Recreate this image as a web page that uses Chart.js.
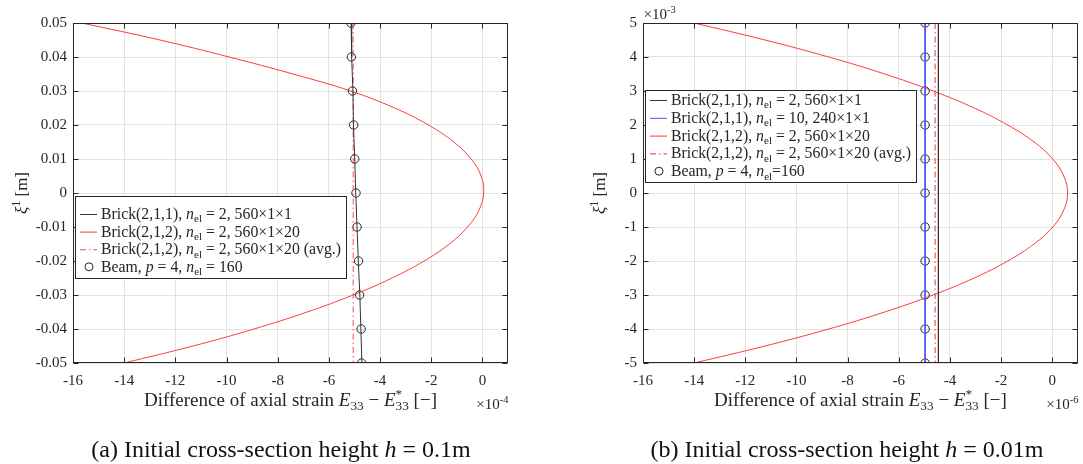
<!DOCTYPE html>
<html>
<head>
<meta charset="utf-8">
<script src="https://cdn.jsdelivr.net/npm/chart.js@4.4.1/dist/chart.umd.min.js"></script>
<style>
body{margin:0;background:#fff;width:1083px;height:464px;position:relative;overflow:hidden}
#ca{position:absolute;left:0;top:0}
#cb{position:absolute;left:540px;top:0}
</style>
</head>
<body>
<canvas id="ca" width="540" height="464"></canvas>
<canvas id="cb" width="543" height="464"></canvas>
<script>
// ---- panel (a): h = 0.1m, strain in 1e-4, xi in m
var xiA = [0.05, 0.04, 0.03, 0.02, 0.01, 0, -0.01, -0.02, -0.03, -0.04, -0.05];
var beamA = [-5.14, -5.12, -5.08, -5.03, -4.99, -4.94, -4.90, -4.84, -4.80, -4.74, -4.72];
var brick211A = [-5.13, -5.11, -5.06, -5.04, -4.99, -4.95, -4.90, -4.85, -4.79, -4.75, -4.71];
var xiEndsA = [0.05, -0.05];
var avgA = [-5.05, -5.05];
var xiFineA = [0.05, 0.045, 0.04, 0.035, 0.03, 0.025, 0.02, 0.015, 0.01, 0.005, 0,
               -0.005, -0.01, -0.015, -0.02, -0.025, -0.03, -0.035, -0.04, -0.045, -0.05];
var brick212A = [-15.66, -12.6, -9.9, -7.4, -5.15, -3.43, -2.11, -1.12, -0.44, -0.05, 0.05,
                 -0.13, -0.58, -1.29, -2.28, -3.53, -5.05, -6.85, -8.93, -11.31, -14.00];
var yTicksA = [-0.05, -0.04, -0.03, -0.02, -0.01, 0, 0.01, 0.02, 0.03, 0.04, 0.05];
var yTickLabelsA = ['-0.05', '-0.04', '-0.03', '-0.02', '-0.01', '0', '0.01', '0.02', '0.03', '0.04', '0.05'];

// ---- panel (b): h = 0.01m, strain in 1e-6, xi in 1e-3 m
var xiB = [5, 4, 3, 2, 1, 0, -1, -2, -3, -4, -5];
var beamB = [-4.97, -4.97, -4.97, -4.97, -4.97, -4.97, -4.97, -4.97, -4.97, -4.97, -4.97];
var xiEndsB = [5, -5];
var brick211B = [-4.45, -4.45];
var brick211fineB = [-4.97, -4.97];
var avgB = [-4.58, -4.58];
var xiFineB = [5, 4.5, 4, 3.5, 3, 2.5, 2, 1.5, 1, 0.5, 0, -0.5, -1, -1.5, -2, -2.5, -3, -3.5, -4, -4.5, -5];
var brick212B = [-14.0, -11.23, -8.74, -6.55, -4.66, -3.05, -1.74, -0.71, 0.02, 0.45, 0.6,
                 0.45, 0.02, -0.71, -1.74, -3.05, -4.66, -6.55, -8.74, -11.23, -14.0];
var yTicksB = [-5, -4, -3, -2, -1, 0, 1, 2, 3, 4, 5];
var yTickLabelsB = ['-5', '-4', '-3', '-2', '-1', '0', '1', '2', '3', '4', '5'];

var xTicks = [-16, -14, -12, -10, -8, -6, -4, -2, 0];
var xTickLabels = ['-16', '-14', '-12', '-10', '-8', '-6', '-4', '-2', '0'];

// legend texts (rich parts: plain string, {t,i} italic, {t,sub}, {t,sup})
var NEL = [{t: 'n', i: true}, {t: 'el', sub: true}];
var lab211 = ['Brick(2,1,1), '].concat(NEL, [' = 2, 560\u00d71\u00d71']);
var lab211f = ['Brick(2,1,1), '].concat(NEL, [' = 10, 240\u00d71\u00d71']);
var lab212 = ['Brick(2,1,2), '].concat(NEL, [' = 2, 560\u00d71\u00d720']);
var lab212avg = ['Brick(2,1,2), '].concat(NEL, [' = 2, 560\u00d71\u00d720 (avg.)']);
var labBeamA = ['Beam, ', {t: 'p', i: true}, ' = 4, '].concat(NEL, [' = 160']);
var labBeamB = ['Beam, ', {t: 'p', i: true}, ' = 4, '].concat(NEL, ['=160']);

var xTitle = ['Difference of axial strain ', {t: 'E', i: true}, {t: '33', sub: true}, ' \u2212 ',
              {t: 'E', i: true}, {ss: ['*', '33']}, ' [\u2212]'];
var yTitle = [{t: '\u03be', i: true}, {t: '1', sup: true}, ' [m]'];
var capA = ['(a) Initial cross-section height ', {t: 'h', i: true}, ' = 0.1m'];
var capB = ['(b) Initial cross-section height ', {t: 'h', i: true}, ' = 0.01m'];

var FONT = '"Liberation Serif", "DejaVu Serif", serif';
var INK = '#262626';
function fnt(size, italic) { return (italic ? 'italic ' : '') + size + 'px ' + FONT; }

function partWidth(ctx, p, size) {
  if (typeof p === 'string') { ctx.font = fnt(size, false); return ctx.measureText(p).width; }
  if (p.ss) {
    ctx.font = fnt(size * 0.7, false);
    return Math.max(ctx.measureText(p.ss[0]).width, ctx.measureText(p.ss[1]).width);
  }
  ctx.font = fnt((p.sub || p.sup) ? size * 0.7 : size, p.i);
  return ctx.measureText(p.t).width;
}

function drawRich(ctx, parts, x, y, size, align) {
  var w = 0;
  parts.forEach(function (p) { w += partWidth(ctx, p, size); });
  var cx = align == 'center' ? x - w / 2 : (align == 'right' ? x - w : x);
  ctx.textAlign = 'left';
  ctx.textBaseline = 'alphabetic';
  parts.forEach(function (p) {
    var pw = partWidth(ctx, p, size);
    if (typeof p === 'string') ctx.fillText(p, cx, y);
    else if (p.ss) {
      ctx.fillText(p.ss[0], cx, y - size * 0.4);
      ctx.fillText(p.ss[1], cx, y + size * 0.22);
    } else ctx.fillText(p.t, cx, y + (p.sub ? size * 0.22 : (p.sup ? -size * 0.4 : 0)));
    cx += pw;
  });
}

function line(ctx, x1, y1, x2, y2) {
  ctx.beginPath(); ctx.moveTo(x1, y1); ctx.lineTo(x2, y2); ctx.stroke();
}

var deco = {
  id: 'deco',
  afterDraw: function (chart, args, o) {
    var ctx = chart.ctx, a = chart.chartArea;
    var sx = chart.scales.x, sy = chart.scales.y;
    ctx.save();
    ctx.strokeStyle = INK;
    ctx.lineWidth = 1;
    var L = Math.round(a.left) + 0.5, R = Math.round(a.right) - 0.5;
    var T = Math.round(a.top) + 0.5, B = Math.round(a.bottom) - 0.5;
    ctx.strokeRect(L, T, R - L, B - T);
    sx.ticks.forEach(function (t) {
      var px = Math.round(sx.getPixelForValue(t.value)) + 0.5;
      line(ctx, px, B, px, B - 5);
      line(ctx, px, T, px, T + 5);
    });
    sy.ticks.forEach(function (t) {
      var py = Math.round(sy.getPixelForValue(t.value)) + 0.5;
      line(ctx, L, py, L + 5, py);
      line(ctx, R, py, R - 5, py);
    });

    ctx.fillStyle = INK;
    drawRich(ctx, xTitle, (a.left + a.right) / 2, o.xTitleY, 19, 'center');
    drawRich(ctx, ['\u00d710', {t: o.expX, sup: true}], R + 1, o.expXY, 15, 'right');
    if (o.expY) drawRich(ctx, ['\u00d710', {t: o.expY, sup: true}], L, 19, 15, 'left');
    ctx.save();
    ctx.translate(o.yTitleX, (a.top + a.bottom) / 2);
    ctx.rotate(-Math.PI / 2);
    drawRich(ctx, yTitle, 0, 5, 17, 'center');
    ctx.restore();
    ctx.fillStyle = '#111';
    drawRich(ctx, o.caption, o.capX, o.capY, 24, 'center');

    // legend box inside the axes
    var lg = o.legend;
    ctx.fillStyle = '#fff';
    ctx.fillRect(lg.x, lg.y, lg.w, lg.h);
    ctx.strokeStyle = INK;
    ctx.strokeRect(lg.x + 0.5, lg.y + 0.5, lg.w, lg.h);
    chart.data.datasets.forEach(function (ds, i) {
      var yy = lg.y + lg.first + i * lg.row;
      ctx.save();
      ctx.strokeStyle = ds.borderColor;
      ctx.lineWidth = 1;
      if (ds.showLine) {
        ctx.setLineDash(ds.borderDash || []);
        line(ctx, lg.x + 5, yy + 0.5, lg.x + 22, yy + 0.5);
      } else {
        ctx.beginPath();
        ctx.arc(lg.x + 14, yy, 4, 0, Math.PI * 2);
        ctx.stroke();
      }
      ctx.restore();
      ctx.fillStyle = INK;
      drawRich(ctx, ds.legendText, lg.x + 26, yy + 5, 15.8, 'left');
    });
    ctx.restore();
  }
};

function pts(xs, ys) {
  return xs.map(function (v, i) { return {x: v, y: ys[i]}; });
}

function makePanel(id, datasets, yMin, yMax, yTicks, yLabels, yWidth, padRight, deco_opts) {
  return new Chart(document.getElementById(id), {
    type: 'scatter',
    data: {datasets: datasets},
    options: {
      responsive: false,
      animation: false,
      layout: {padding: {left: 0, right: padRight, top: 23, bottom: 464 - 363 - 30}},
      plugins: {legend: {display: false}, tooltip: {enabled: false}, deco: deco_opts},
      scales: {
        x: {
          type: 'linear', min: -16, max: 1,
          afterBuildTicks: function (s) { s.ticks = xTicks.map(function (v) { return {value: v}; }); },
          afterFit: function (s) { s.height = 30; },
          grid: {color: '#e3e3e3', drawTicks: false},
          border: {display: false},
          ticks: {
            padding: 9, color: INK, font: {family: FONT, size: 15}, maxRotation: 0, autoSkip: false,
            callback: function (v, i) { return xTickLabels[i]; }
          }
        },
        y: {
          type: 'linear', min: yMin, max: yMax,
          afterBuildTicks: function (s) { s.ticks = yTicks.map(function (v) { return {value: v}; }); },
          afterFit: function (s) { s.width = yWidth; },
          grid: {color: '#e3e3e3', drawTicks: false},
          border: {display: false},
          ticks: {
            padding: 6, color: INK, font: {family: FONT, size: 15}, autoSkip: false,
            callback: function (v, i) { return yLabels[i]; }
          }
        }
      }
    },
    plugins: [deco]
  });
}

var circle = {showLine: false, pointStyle: 'circle', pointRadius: 4.2, borderColor: INK,
              backgroundColor: 'rgba(0,0,0,0)', pointBorderWidth: 1};

makePanel('ca', [
  {data: pts(brick211A, xiA), showLine: true, borderColor: '#333',
   borderWidth: 1, pointRadius: 0, legendText: lab211},
  {data: pts(brick212A, xiFineA), showLine: true, borderColor: '#ff3b3b', borderWidth: 1, pointRadius: 0,
   tension: 0.4, legendText: lab212},
  {data: pts(avgA, xiEndsA), showLine: true, borderColor: '#ff4a4a', borderWidth: 1, pointRadius: 0,
   borderDash: [6, 3, 1.5, 3], legendText: lab212avg},
  Object.assign({data: pts(beamA, xiA), legendText: labBeamA}, circle)
], -0.05, 0.05, yTicksA, yTickLabelsA, 73, 32, {
  xTitleY: 406, expX: '-4', expXY: 409, yTitleX: 22,
  caption: capA, capX: 281, capY: 457,
  legend: {x: 75, y: 196, w: 271, h: 82, first: 18, row: 17.6}
});

makePanel('cb', [
  {data: pts(brick211B, xiEndsB), showLine: true, borderColor: '#333', borderWidth: 1, pointRadius: 0,
   legendText: lab211},
  {data: pts(brick211fineB, xiEndsB), showLine: true, borderColor: '#5050ff', borderWidth: 1, pointRadius: 0,
   legendText: lab211f},
  {data: pts(brick212B, xiFineB), showLine: true, borderColor: '#ff3b3b', borderWidth: 1, pointRadius: 0,
   tension: 0.4, legendText: lab212},
  {data: pts(avgB, xiEndsB), showLine: true, borderColor: '#ff2a2a', borderWidth: 1, pointRadius: 0,
   borderDash: [6, 3, 1.5, 3], legendText: lab212avg},
  Object.assign({data: pts(beamB, xiB), legendText: labBeamB}, circle)
], -5, 5, yTicksB, yTickLabelsB, 103, 5, {
  xTitleY: 406, expX: '-6', expXY: 409, expY: '-3', yTitleX: 60,
  caption: capB, capX: 307, capY: 457,
  legend: {x: 105, y: 90, w: 271, h: 92, first: 10, row: 17.8}
});
</script>
</body>
</html>
